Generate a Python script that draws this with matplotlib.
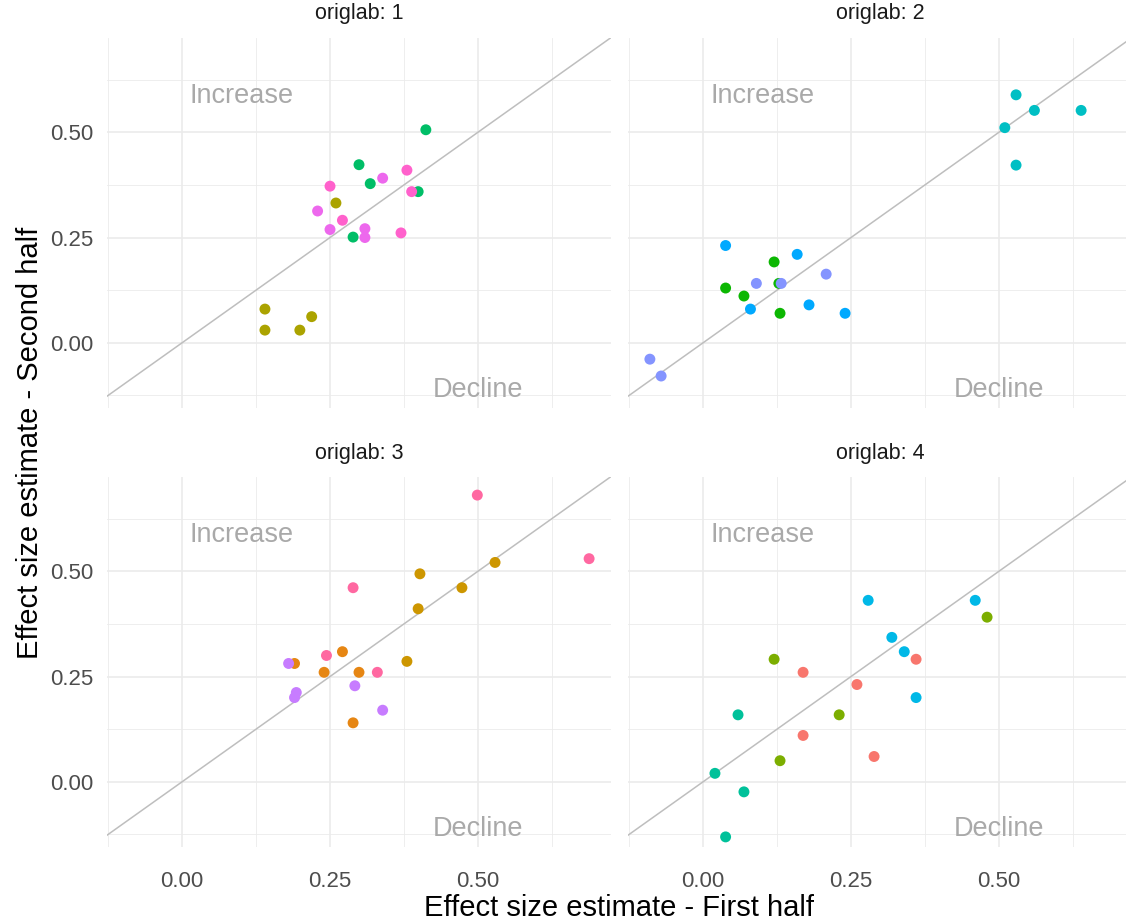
import numpy as np
import matplotlib
matplotlib.use("Agg")
import matplotlib.pyplot as plt
from matplotlib.ticker import MultipleLocator

plt.rcParams['font.family'] = ['Liberation Sans', 'DejaVu Sans']

# ggplot hue palette, 16 levels
palette = ["#F8766D", "#E68613", "#CD9600", "#ABA300", "#7CAE00", "#0CB702",
           "#00BE67", "#00C19A", "#00BFC4", "#00B8E7", "#00A9FF", "#8494FF",
           "#C77CFF", "#ED68ED", "#FF61CC", "#FF68A1"]

# origlab 1
x1 = [0.412, 0.299, 0.318, 0.399, 0.289,
      0.380, 0.388, 0.250, 0.271, 0.370,
      0.339, 0.229, 0.250, 0.309, 0.309,
      0.260, 0.140, 0.140, 0.199, 0.219]
y1 = [0.506, 0.423, 0.378, 0.359, 0.251,
      0.410, 0.359, 0.372, 0.291, 0.261,
      0.391, 0.313, 0.269, 0.271, 0.250,
      0.332, 0.080, 0.030, 0.030, 0.062]
g1 = [6] * 5 + [14] * 5 + [13] * 5 + [3] * 5

# origlab 2
x2 = [0.529, 0.560, 0.639, 0.510, 0.529,
      0.038, 0.159, 0.080, 0.179, 0.240,
      0.120, 0.038, 0.069, 0.128, 0.130,
      0.090, 0.132, 0.208, -0.090, -0.071]
y2 = [0.589, 0.552, 0.552, 0.511, 0.422,
      0.231, 0.210, 0.080, 0.090, 0.070,
      0.192, 0.130, 0.111, 0.141, 0.070,
      0.141, 0.141, 0.163, -0.039, -0.079]
g2 = [8] * 5 + [10] * 5 + [5] * 5 + [11] * 5

# origlab 3
x3 = [0.499, 0.688, 0.289, 0.244, 0.330,
      0.529, 0.402, 0.473, 0.399, 0.380,
      0.271, 0.190, 0.240, 0.299, 0.289,
      0.180, 0.292, 0.193, 0.190, 0.339]
y3 = [0.681, 0.530, 0.461, 0.300, 0.260,
      0.521, 0.494, 0.461, 0.411, 0.286,
      0.309, 0.281, 0.260, 0.260, 0.140,
      0.281, 0.228, 0.212, 0.200, 0.170]
g3 = [15] * 5 + [2] * 5 + [1] * 5 + [12] * 5

# origlab 4
x4 = [0.279, 0.460, 0.319, 0.340, 0.360,
      0.480, 0.120, 0.230, 0.130,
      0.360, 0.169, 0.260, 0.169, 0.289,
      0.059, 0.020, 0.069, 0.038]
y4 = [0.431, 0.431, 0.343, 0.309, 0.200,
      0.391, 0.291, 0.159, 0.050,
      0.291, 0.260, 0.231, 0.110, 0.060,
      0.159, 0.020, -0.024, -0.131]
g4 = [9] * 5 + [4] * 4 + [0] * 5 + [7] * 4

panels = [("origlab: 1", x1, y1, g1), ("origlab: 2", x2, y2, g2),
          ("origlab: 3", x3, y3, g3), ("origlab: 4", x4, y4, g4)]

W, H = 1126, 923
fig = plt.figure(figsize=(W / 100, H / 100), dpi=100)

lefts = [107, 628]
tops = [38, 477]
pw, ph = 504, 370

for i, (title, xs, ys, gs) in enumerate(panels):
    r, c = divmod(i, 2)
    ax = fig.add_axes([lefts[c] / W, 1 - (tops[r] + ph) / H, pw / W, ph / H])
    ax.set_xlim(-0.127, 0.725)
    ax.set_ylim(-0.155, 0.724)
    for s in ax.spines.values():
        s.set_visible(False)
    ax.xaxis.set_major_locator(MultipleLocator(0.25))
    ax.yaxis.set_major_locator(MultipleLocator(0.25))
    ax.xaxis.set_minor_locator(MultipleLocator(0.125))
    ax.yaxis.set_minor_locator(MultipleLocator(0.125))
    ax.grid(True, which='major', color='#EBEBEB', lw=1.2)
    ax.grid(True, which='minor', color='#EBEBEB', lw=0.6)
    ax.set_axisbelow(True)
    ax.tick_params(which='both', length=0, labelsize=16, labelcolor='#4D4D4D')
    ax.tick_params(axis='x', pad=17)
    ax.tick_params(axis='y', pad=10)
    ax.xaxis.set_major_formatter(lambda v, p: f"{v:.2f}")
    ax.yaxis.set_major_formatter(lambda v, p: f"{v:.2f}")
    if r == 0:
        ax.tick_params(axis='x', labelbottom=False)
    if c == 1:
        ax.tick_params(axis='y', labelleft=False)

    ax.axline((0, 0), slope=1, color='#BEBEBE', lw=1.1, zorder=2)
    ax.scatter(xs, ys, c=[palette[g] for g in gs], s=62, linewidths=0, zorder=3)
    ax.text(0.1, 0.586, "Increase", color='#A9A9A9', fontsize=19.5, ha='center', va='center')
    ax.text(0.5, -0.112, "Decline", color='#A9A9A9', fontsize=19.5, ha='center', va='center')
    ax.text(0.5, 1 + 24 / ph, title, fontsize=15.5, color='#1A1A1A',
            ha='center', va='center', transform=ax.transAxes)

fig.text((107 + 628 + pw) / 2 / W, 1 - 908 / H, "Effect size estimate - First half",
         fontsize=21, ha='center', va='center')
fig.text(30 / W, 1 - (38 + 477 + ph) / 2 / H, "Effect size estimate - Second half",
         fontsize=21, ha='center', va='center', rotation=90)

fig.savefig("out.png", dpi=100, facecolor='white')
